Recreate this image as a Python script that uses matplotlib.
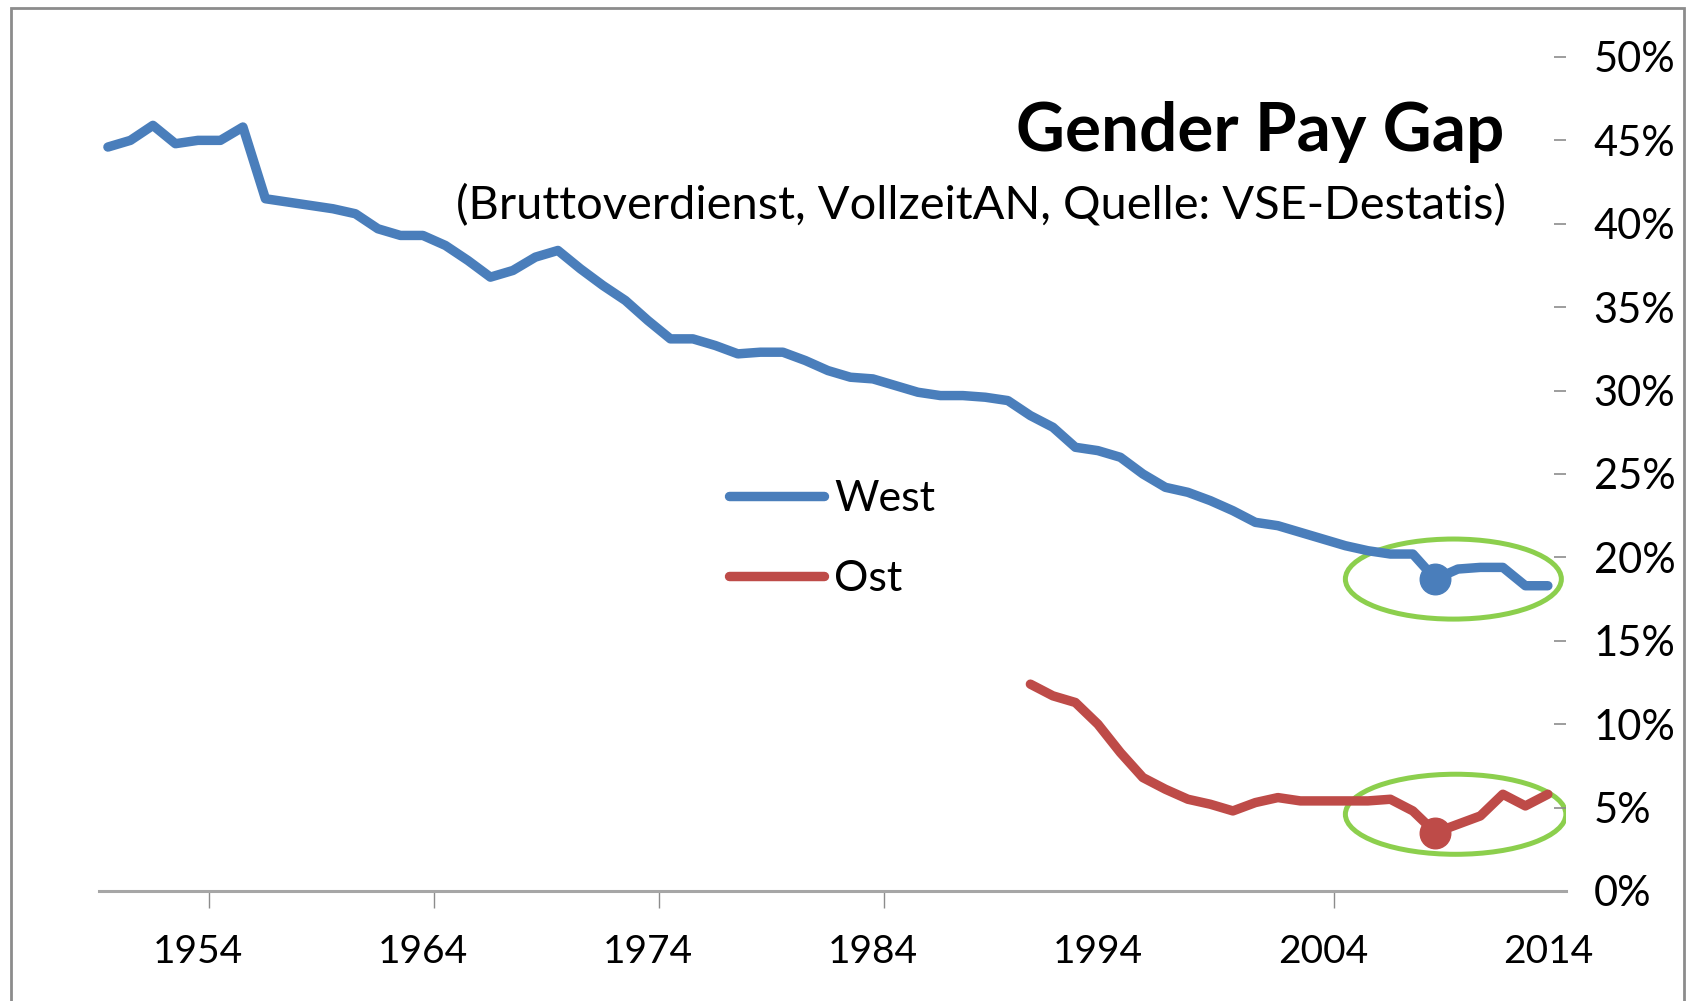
import matplotlib
matplotlib.use("Agg")
import matplotlib.pyplot as plt
from matplotlib.patches import Ellipse, Rectangle
from matplotlib.lines import Line2D

plt.rcParams['font.family'] = ['Lato', 'DejaVu Sans']

# Gender pay gap in percent
west_years = list(range(1950, 2015))
west_gap = [44.6, 45.0, 45.9, 44.8, 45.0, 45.0, 45.8, 41.5, 41.3, 41.1,
            40.9, 40.6, 39.7, 39.3, 39.3, 38.7, 37.8, 36.8, 37.2, 38.0,
            38.4, 37.3, 36.3, 35.4, 34.2, 33.1, 33.1, 32.7, 32.2, 32.3,
            32.3, 31.8, 31.2, 30.8, 30.7, 30.3, 29.9, 29.7, 29.7, 29.6,
            29.4, 28.5, 27.8, 26.6, 26.4, 26.0, 25.0, 24.2, 23.9, 23.4,
            22.8, 22.1, 21.9, 21.5, 21.1, 20.7, 20.4, 20.2, 20.2, 18.7,
            19.3, 19.4, 19.4, 18.3, 18.3]

ost_years = list(range(1991, 2015))
ost_gap = [12.4, 11.7, 11.3, 10.0, 8.3, 6.8, 6.1, 5.5, 5.2, 4.8,
           5.3, 5.6, 5.4, 5.4, 5.4, 5.4, 5.5, 4.8, 3.5, 4.0,
           4.5, 5.8, 5.1, 5.8]

highlight_year = 2009
west_hl = west_gap[west_years.index(highlight_year)]
ost_hl = ost_gap[ost_years.index(highlight_year)]

tick_years = [1954, 1964, 1974, 1984, 1994, 2004, 2014]
tick_mark_years = [1954, 1964, 1974, 1984, 2004]  # the original has no mark at 1994
y_ticks = [0, 5, 10, 15, 20, 25, 30, 35, 40, 45, 50]

BLUE = '#4A7EBB'
RED = '#BE4B48'
GREEN = '#8CCF4D'
GRAY = '#8C8C8C'
LW = 6.8


def main():
    fig = plt.figure(figsize=(16.91, 10.01), dpi=100)
    ax = fig.add_axes([0.0585, 0.1099, 0.8675, 0.8332])

    ax.plot(west_years, west_gap, color=BLUE, lw=LW,
            solid_joinstyle='round', solid_capstyle='round', label='West')
    ax.plot(ost_years, ost_gap, color=RED, lw=LW,
            solid_joinstyle='round', solid_capstyle='round', label='Ost')

    ax.plot([highlight_year], [west_hl], 'o', color=BLUE, ms=22)
    ax.plot([highlight_year], [ost_hl], 'o', color=RED, ms=22)

    ax.add_patch(Ellipse((2009.8, 18.7), 9.6, 4.8, fill=False,
                         ec=GREEN, lw=3.6))
    ax.add_patch(Ellipse((2009.9, 4.6), 9.8, 4.8, fill=False,
                         ec=GREEN, lw=3.6))

    ax.set_xlim(1949.6, 2014.8)
    ax.set_ylim(0, 50)

    for side in ['top', 'left', 'right']:
        ax.spines[side].set_visible(False)
    ax.spines['bottom'].set_color('#A6A6A6')
    ax.spines['bottom'].set_linewidth(2.2)

    # x labels at category centres, tick marks at category boundaries
    ax.set_xticks(tick_years)
    ax.set_xticklabels([str(y) for y in tick_years], fontsize=28)
    ax.set_xticks([y + 0.5 for y in tick_mark_years], minor=True)
    ax.tick_params(axis='x', which='major', length=0, pad=31)
    ax.tick_params(axis='x', which='minor', length=12, width=1, color=GRAY,
                   direction='out')

    ax.yaxis.tick_right()
    ax.set_yticks(y_ticks)
    ax.set_yticklabels([f"{v}%" for v in y_ticks], fontsize=30)
    ax.tick_params(axis='y', which='major', length=9, width=1.2, color=GRAY,
                   direction='in', pad=20)

    handles = [Line2D([], [], color=BLUE, lw=LW, solid_capstyle='round'),
               Line2D([], [], color=RED, lw=LW, solid_capstyle='round')]
    ax.legend(handles, ['West', 'Ost'], loc='center left',
              bbox_to_anchor=(0.4295, 0.4224), frameon=False, fontsize=31,
              handlelength=2.2, handletextpad=0.25, labelspacing=0.98,
              borderpad=0, borderaxespad=0)

    fig.text(1504 / 1691, 1 - 151 / 1001, "Gender Pay Gap", ha='right',
             va='baseline', fontsize=48.5, fontweight='bold')
    fig.text(1506 / 1691, 1 - 219 / 1001,
             "(Bruttoverdienst, VollzeitAN, Quelle: VSE-Destatis)",
             ha='right', va='baseline', fontsize=33.8)

    fig.patches.append(Rectangle((11 / 1691, -0.02), 1673 / 1691,
                                 1.02 - 8 / 1001,
                                 transform=fig.transFigure, fill=False,
                                 ec=GRAY, lw=2))

    fig.savefig("out.png", dpi=100)


if __name__ == "__main__":
    main()
